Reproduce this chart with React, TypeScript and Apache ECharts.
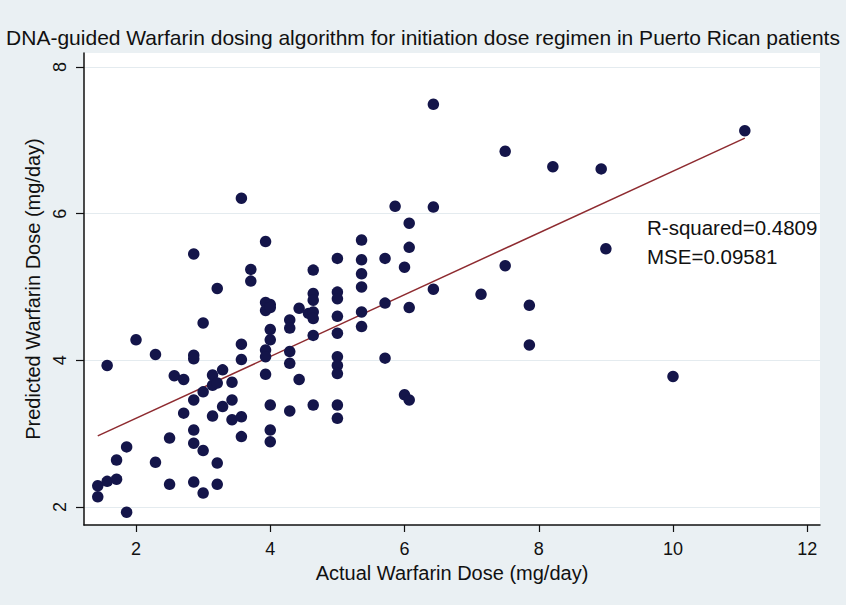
import React, { useEffect, useRef } from "react";
import * as echarts from "echarts";

const chartTitle =
  "DNA-guided Warfarin dosing algorithm for initiation dose regimen in Puerto Rican patients";
const xAxisName = "Actual Warfarin Dose (mg/day)";
const yAxisName = "Predicted Warfarin Dose (mg/day)";
const statLines = ["R-squared=0.4809", "MSE=0.09581"];

const xTicks = [2, 4, 6, 8, 10, 12];
const yTicks = [2, 4, 6, 8];

// Observed points: actual dose (x) and predicted dose (y)
const actualDose = [
  1.43, 1.43, 1.57, 1.57, 1.71, 1.71, 1.86, 1.86, 2.0, 2.29, 2.29, 2.5, 2.5,
  2.57, 2.71, 2.71, 2.86, 2.86, 2.86, 2.86, 2.86, 2.86, 2.86, 3.0, 3.0, 3.0,
  3.0, 3.14, 3.14, 3.14, 3.21, 3.21, 3.21, 3.21, 3.29, 3.29, 3.43, 3.43, 3.43,
  3.57, 3.57, 3.57, 3.57, 3.57, 3.71, 3.71, 3.93, 3.93, 3.93, 3.93, 3.93, 3.93,
  4.0, 4.0, 4.0, 4.0, 4.0, 4.0, 4.0, 4.29, 4.29, 4.29, 4.29, 4.29, 4.43, 4.43,
  4.57, 4.64, 4.64, 4.64, 4.64, 4.64, 4.64, 4.64, 5.0, 5.0, 5.0, 5.0, 5.0, 5.0,
  5.0, 5.0, 5.0, 5.0, 5.36, 5.36, 5.36, 5.36, 5.36, 5.36, 5.71, 5.71, 5.71,
  5.86, 6.0, 6.0, 6.07, 6.07, 6.07, 6.07, 6.43, 6.43, 6.43, 7.14, 7.5, 7.5,
  7.86, 7.86, 8.21, 8.93, 9.0, 10.0, 11.07,
];
const predictedDose = [
  2.29, 2.14, 2.35, 3.93, 2.38, 2.64, 2.82, 1.93, 4.28, 4.08, 2.61, 2.94, 2.31,
  3.79, 3.74, 3.28, 5.45, 4.07, 4.02, 3.46, 3.05, 2.87, 2.34, 4.51, 3.57, 2.77,
  2.19, 3.8, 3.66, 3.24, 4.98, 3.69, 2.6, 2.31, 3.87, 3.37, 3.7, 3.46, 3.19,
  6.21, 4.22, 4.01, 3.23, 2.96, 5.24, 5.08, 5.62, 4.79, 4.68, 4.14, 4.05, 3.81,
  4.76, 4.72, 4.42, 4.28, 3.39, 3.05, 2.89, 4.55, 4.44, 4.12, 3.96, 3.31, 4.71,
  3.74, 4.64, 5.23, 4.91, 4.82, 4.66, 4.57, 4.34, 3.39, 5.39, 4.93, 4.84, 4.6,
  4.37, 4.05, 3.93, 3.82, 3.39, 3.21, 5.64, 5.37, 5.18, 5.0, 4.66, 4.46, 5.39,
  4.78, 4.03, 6.1, 5.27, 3.53, 5.87, 5.54, 4.72, 3.46, 7.49, 6.09, 4.97, 4.9,
  6.85, 5.29, 4.75, 4.21, 6.64, 6.61, 5.52, 3.78, 7.13,
];

// Fitted regression line end points
const fitX = [1.43, 11.07];
const fitY = [2.97, 7.03];

export default function App() {
  const ref = useRef<HTMLDivElement>(null);
  useEffect(() => {
    if (!ref.current) return;
    const chart = echarts.init(ref.current, null, { renderer: "svg" });
    const font = "'Liberation Sans', Arial, Helvetica, sans-serif";
    const points = actualDose.map((x, i) => [x, predictedDose[i]]);
    const fit = fitX.map((x, i) => [x, fitY[i]]);
    chart.setOption({
      animation: false,
      backgroundColor: "#eaf0f3",
      textStyle: { fontFamily: font },
      title: {
        text: chartTitle,
        left: "center",
        top: 22,
        textStyle: { fontSize: 21, fontWeight: "normal", color: "#111", fontFamily: font },
      },
      grid: {
        left: 84,
        right: 26,
        top: 53,
        bottom: 80,
        show: true,
        backgroundColor: "#ffffff",
        borderWidth: 0,
      },
      xAxis: {
        type: "value",
        min: 1.225,
        max: 12.19,
        name: xAxisName,
        nameLocation: "middle",
        nameGap: 37,
        nameTextStyle: { fontSize: 20, color: "#111", fontFamily: font },
        axisLine: { show: true, lineStyle: { color: "#111", width: 1.5 } },
        axisTick: { show: true, length: 7, customValues: xTicks, lineStyle: { color: "#111", width: 1.2 } },
        axisLabel: { customValues: xTicks, fontSize: 18, color: "#111", margin: 15, fontFamily: font },
        splitLine: { show: false },
      },
      yAxis: {
        type: "value",
        min: 1.755,
        max: 8.19,
        name: yAxisName,
        nameLocation: "middle",
        nameGap: 39,
        nameTextStyle: { fontSize: 20, color: "#111", fontFamily: font },
        axisLine: { show: true, lineStyle: { color: "#111", width: 1.5 } },
        axisTick: { show: true, length: 8, customValues: yTicks, lineStyle: { color: "#111", width: 1.2 } },
        axisLabel: { customValues: yTicks, rotate: 90, fontSize: 18, color: "#111", margin: 15, fontFamily: font },
        splitLine: { show: true, lineStyle: { color: "#e4ebef", width: 1 } },
      },
      graphic: [
        {
          type: "text",
          left: 647,
          top: 217,
          style: { text: statLines[0], fontSize: 20.5, fill: "#111", fontFamily: font },
        },
        {
          type: "text",
          left: 647,
          top: 246,
          style: { text: statLines[1], fontSize: 20.5, fill: "#111", fontFamily: font },
        },
      ],
      series: [
        {
          type: "scatter",
          data: points,
          symbolSize: 11.5,
          itemStyle: { color: "#14154a", opacity: 1 },
          z: 3,
        },
        {
          type: "line",
          data: fit,
          showSymbol: false,
          symbol: "none",
          lineStyle: { color: "#8e2b30", width: 1.5 },
          z: 2,
        },
      ],
    });
    return () => chart.dispose();
  }, []);
  return (
    <div
      ref={ref}
      style={{ position: "absolute", left: 0, top: 0, width: 846, height: 605 }}
    />
  );
}
